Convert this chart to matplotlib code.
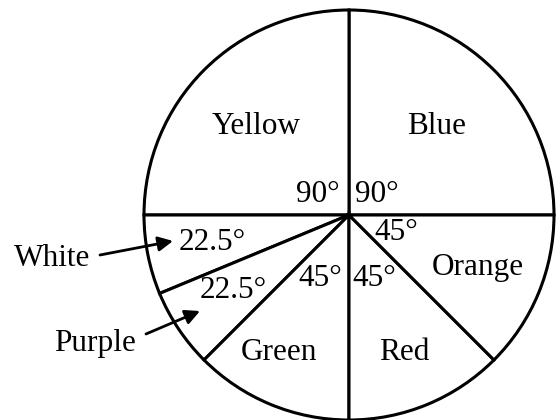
import matplotlib.pyplot as plt

# slice data (degrees), counter-clockwise from 3 o'clock
colors_names = ["Blue", "Yellow", "White", "Purple", "Green", "Red", "Orange"]
angles = [90, 90, 22.5, 22.5, 45, 45, 45]
angle_labels = ["90°", "90°", "22.5°", "22.5°", "45°", "45°", "45°"]

# layout (pixel positions in the 557x420 picture)
W, H = 557, 420
CX, CY, R = 349, 215, 205
name_pos = {"Blue": (437, 126), "Yellow": (256, 126), "Orange": (478, 268),
            "Red": (404, 353), "Green": (279, 353)}
angle_pos = [(377, 195), (318, 195), (212, 242), (233, 290),
             (320, 278), (374, 278), (396, 232)]
outside = {"White": ((52, 258), (100, 255), (173, 241)),
           "Purple": ((95, 343), (146, 334), (200, 311))}


def to_data(px, py):
    return (px - CX) / R, (CY - py) / R


plt.rcParams['font.family'] = ['Liberation Serif', 'DejaVu Serif']
fig = plt.figure(figsize=(W / 100, H / 100), dpi=100)
ax = fig.add_axes([0, 0, 1, 1])

ax.pie(angles, startangle=0, counterclock=True, radius=1, center=(0, 0),
       colors=["white"] * len(angles),
       wedgeprops=dict(edgecolor="black", linewidth=2.2))

fs = 22.5
for name in colors_names:
    if name in name_pos:
        x, y = to_data(*name_pos[name])
        ax.text(x, y, name, fontsize=fs, ha="center", va="center")

for lab, (px, py) in zip(angle_labels, angle_pos):
    x, y = to_data(px, py)
    ax.text(x, y, lab, fontsize=fs, ha="center", va="center")

for name, (tp, start, end) in outside.items():
    x, y = to_data(*tp)
    ax.text(x, y, name, fontsize=fs, ha="center", va="center")
    ax.annotate("", xy=to_data(*end), xytext=to_data(*start),
                arrowprops=dict(arrowstyle="-|>", mutation_scale=22,
                                lw=2, color="black", shrinkA=0, shrinkB=0))

ax.set_xlim(-CX / R, (W - CX) / R)
ax.set_ylim((CY - H) / R, CY / R)
ax.set_aspect("auto")
ax.axis("off")

fig.savefig("out.png", dpi=100)
